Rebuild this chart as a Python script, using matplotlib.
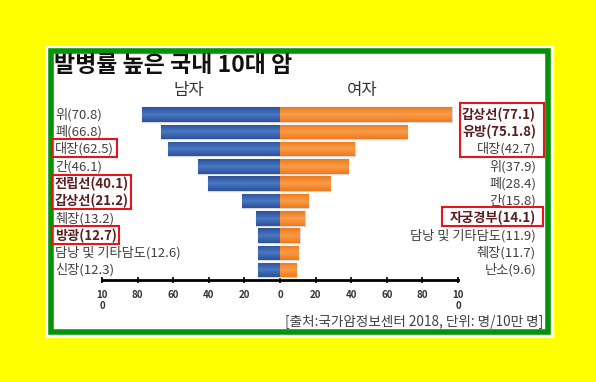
import matplotlib
matplotlib.use("Agg")
import matplotlib.pyplot as plt
import numpy as np
from matplotlib.patches import Rectangle
from matplotlib.colors import LinearSegmentedColormap
import matplotlib.transforms as mtransforms

plt.rcParams['font.family'] = ['Noto Sans CJK KR', 'DejaVu Sans']

title = "발병률 높은 국내 10대 암"
male_labels = ["위(70.8)", "폐(66.8)", "대장(62.5)", "간(46.1)", "전립선(40.1)",
               "갑상선(21.2)", "췌장(13.2)", "방광(12.7)", "담낭 및 기타담도(12.6)", "신장(12.3)"]
male_values = [77.5, 66.8, 62.7, 46.1, 40.4, 21.2, 13.3, 12.5, 12.5, 12.3]
male_bold = [False, False, False, False, True, True, False, True, False, False]
female_labels = ["갑상선(77.1)", "유방(75.1.8)", "대장(42.7)", "위(37.9)", "폐(28.4)",
                 "간(15.8)", "자궁경부(14.1)", "담낭 및 기타담도(11.9)", "췌장(11.7)", "난소(9.6)"]
female_values = [96.4, 71.5, 42.1, 38.4, 28.3, 15.9, 13.9, 11.2, 10.3, 9.2]
female_bold = [True, True, False, False, False, False, True, False, False, False]
xticks = [-100, -80, -60, -40, -20, 0, 20, 40, 60, 80, 100]
xtick_labels = ["10\n0", "80", "60", "40", "20", "0", "20", "40", "60", "80", "10\n0"]
source = "[출처:국가암정보센터 2018, 단위: 명/10만 명]"

W, H = 596, 382
fig = plt.figure(figsize=(W / 100, H / 100), dpi=100)
fig.patch.set_facecolor('#ffff00')

def px(x0, y0, x1, y1):
    # pixel box (top-left origin) -> figure fraction rect
    return (x0 / W, 1 - y1 / H, (x1 - x0) / W, (y1 - y0) / H)

# white panel with green border
l, b, w, h = px(50.5, 50.5, 548, 332)
fig.patches.append(Rectangle((l, b), w, h, transform=fig.transFigure,
                             facecolor='white', edgecolor='white', linewidth=8, zorder=0))
fig.patches.append(Rectangle((l, b), w, h, transform=fig.transFigure,
                             facecolor='white', edgecolor='#079307', linewidth=4, zorder=1))

# axes
ax_left, ax_right = 102, 458
row0, step = 114.5, 17.3
ylim_top, ylim_bot = -0.6, 9.58
top_px = row0 + ylim_top * step
bot_px = row0 + ylim_bot * step
ax = fig.add_axes(px(ax_left, top_px, ax_right, bot_px))
ax.set_zorder(3)
ax.set_facecolor('none')
ax.set_xlim(-100, 100)
ax.set_ylim(ylim_bot, ylim_top)
y = np.arange(len(male_values))

blue_cmap = LinearSegmentedColormap.from_list('b', ['#2c519a', '#4a78c2', '#2c519a'])
orange_cmap = LinearSegmentedColormap.from_list('o', ['#ee7a1c', '#fa9c48', '#ee7a1c'])
grad = np.linspace(0, 1, 64).reshape(-1, 1)

mb = ax.barh(y, [-v for v in male_values], height=0.84, color='#3b62ae',
             edgecolor='#d8d8d8', linewidth=1.0, zorder=2)
fb = ax.barh(y, female_values, height=0.84, color='#f58a2c',
             edgecolor='#d8d8d8', linewidth=1.0, zorder=2)
for bars, cmap in ((mb, blue_cmap), (fb, orange_cmap)):
    for p in bars:
        x0, y0 = p.get_x(), p.get_y()
        x1, y1 = x0 + p.get_width(), y0 + p.get_height()
        im = ax.imshow(grad, cmap=cmap, aspect='auto',
                       extent=(min(x0, x1), max(x0, x1), y1, y0), zorder=2.5)
        im.set_clip_path(p)
ax.set_xlim(-100, 100)
ax.set_ylim(ylim_bot, ylim_top)

for s in ['left', 'right', 'top']:
    ax.spines[s].set_visible(False)
ax.spines['bottom'].set_linewidth(2)
ax.spines['bottom'].set_color('black')
ax.set_yticks([])
ax.set_xticks(xticks)
ax.set_xticklabels(xtick_labels, fontsize=7, fontweight='bold', color='#333333', linespacing=1.15)
ax.tick_params(axis='x', direction='inout', length=4, width=1.2, pad=5)

# row labels
tl = mtransforms.blended_transform_factory(fig.transFigure, ax.transData)
for i, (lab, bold) in enumerate(zip(male_labels, male_bold)):
    ax.text(55 / W, i, lab, transform=tl, ha='left', va='center', fontsize=9.5,
            fontweight='bold' if bold else 'normal',
            color='#5a1e1e' if bold else '#404040')
for i, (lab, bold) in enumerate(zip(female_labels, female_bold)):
    ax.text(536 / W, i, lab, transform=tl, ha='right', va='center', fontsize=9.5,
            fontweight='bold' if bold else 'normal',
            color='#5a1e1e' if bold else '#404040')

# red boxes
for (x0, y0, x1, y1) in [(52, 139, 117, 157), (52, 175, 131, 209), (52, 226, 119, 244),
                         (460, 103, 544, 157), (442, 207, 543, 226)]:
    l, b, w, h = px(x0, y0, x1, y1)
    fig.patches.append(Rectangle((l, b), w, h, transform=fig.transFigure,
                                 facecolor='none', edgecolor='#e8141b', linewidth=1.5, zorder=5))

fig.text(54 / W, 1 - 65 / H, title, ha='left', va='center', fontsize=16.5,
         fontweight='bold', color='#111111')
fig.text(189 / W, 1 - 90 / H, "남자", ha='center', va='center', fontsize=12, color='#333333')
fig.text(362 / W, 1 - 91 / H, "여자", ha='center', va='center', fontsize=12, color='#333333')
fig.text(543 / W, 1 - 322 / H, source, ha='right', va='center', fontsize=9.8, color='#404040')

fig.savefig('out.png', dpi=100, facecolor=fig.get_facecolor())
